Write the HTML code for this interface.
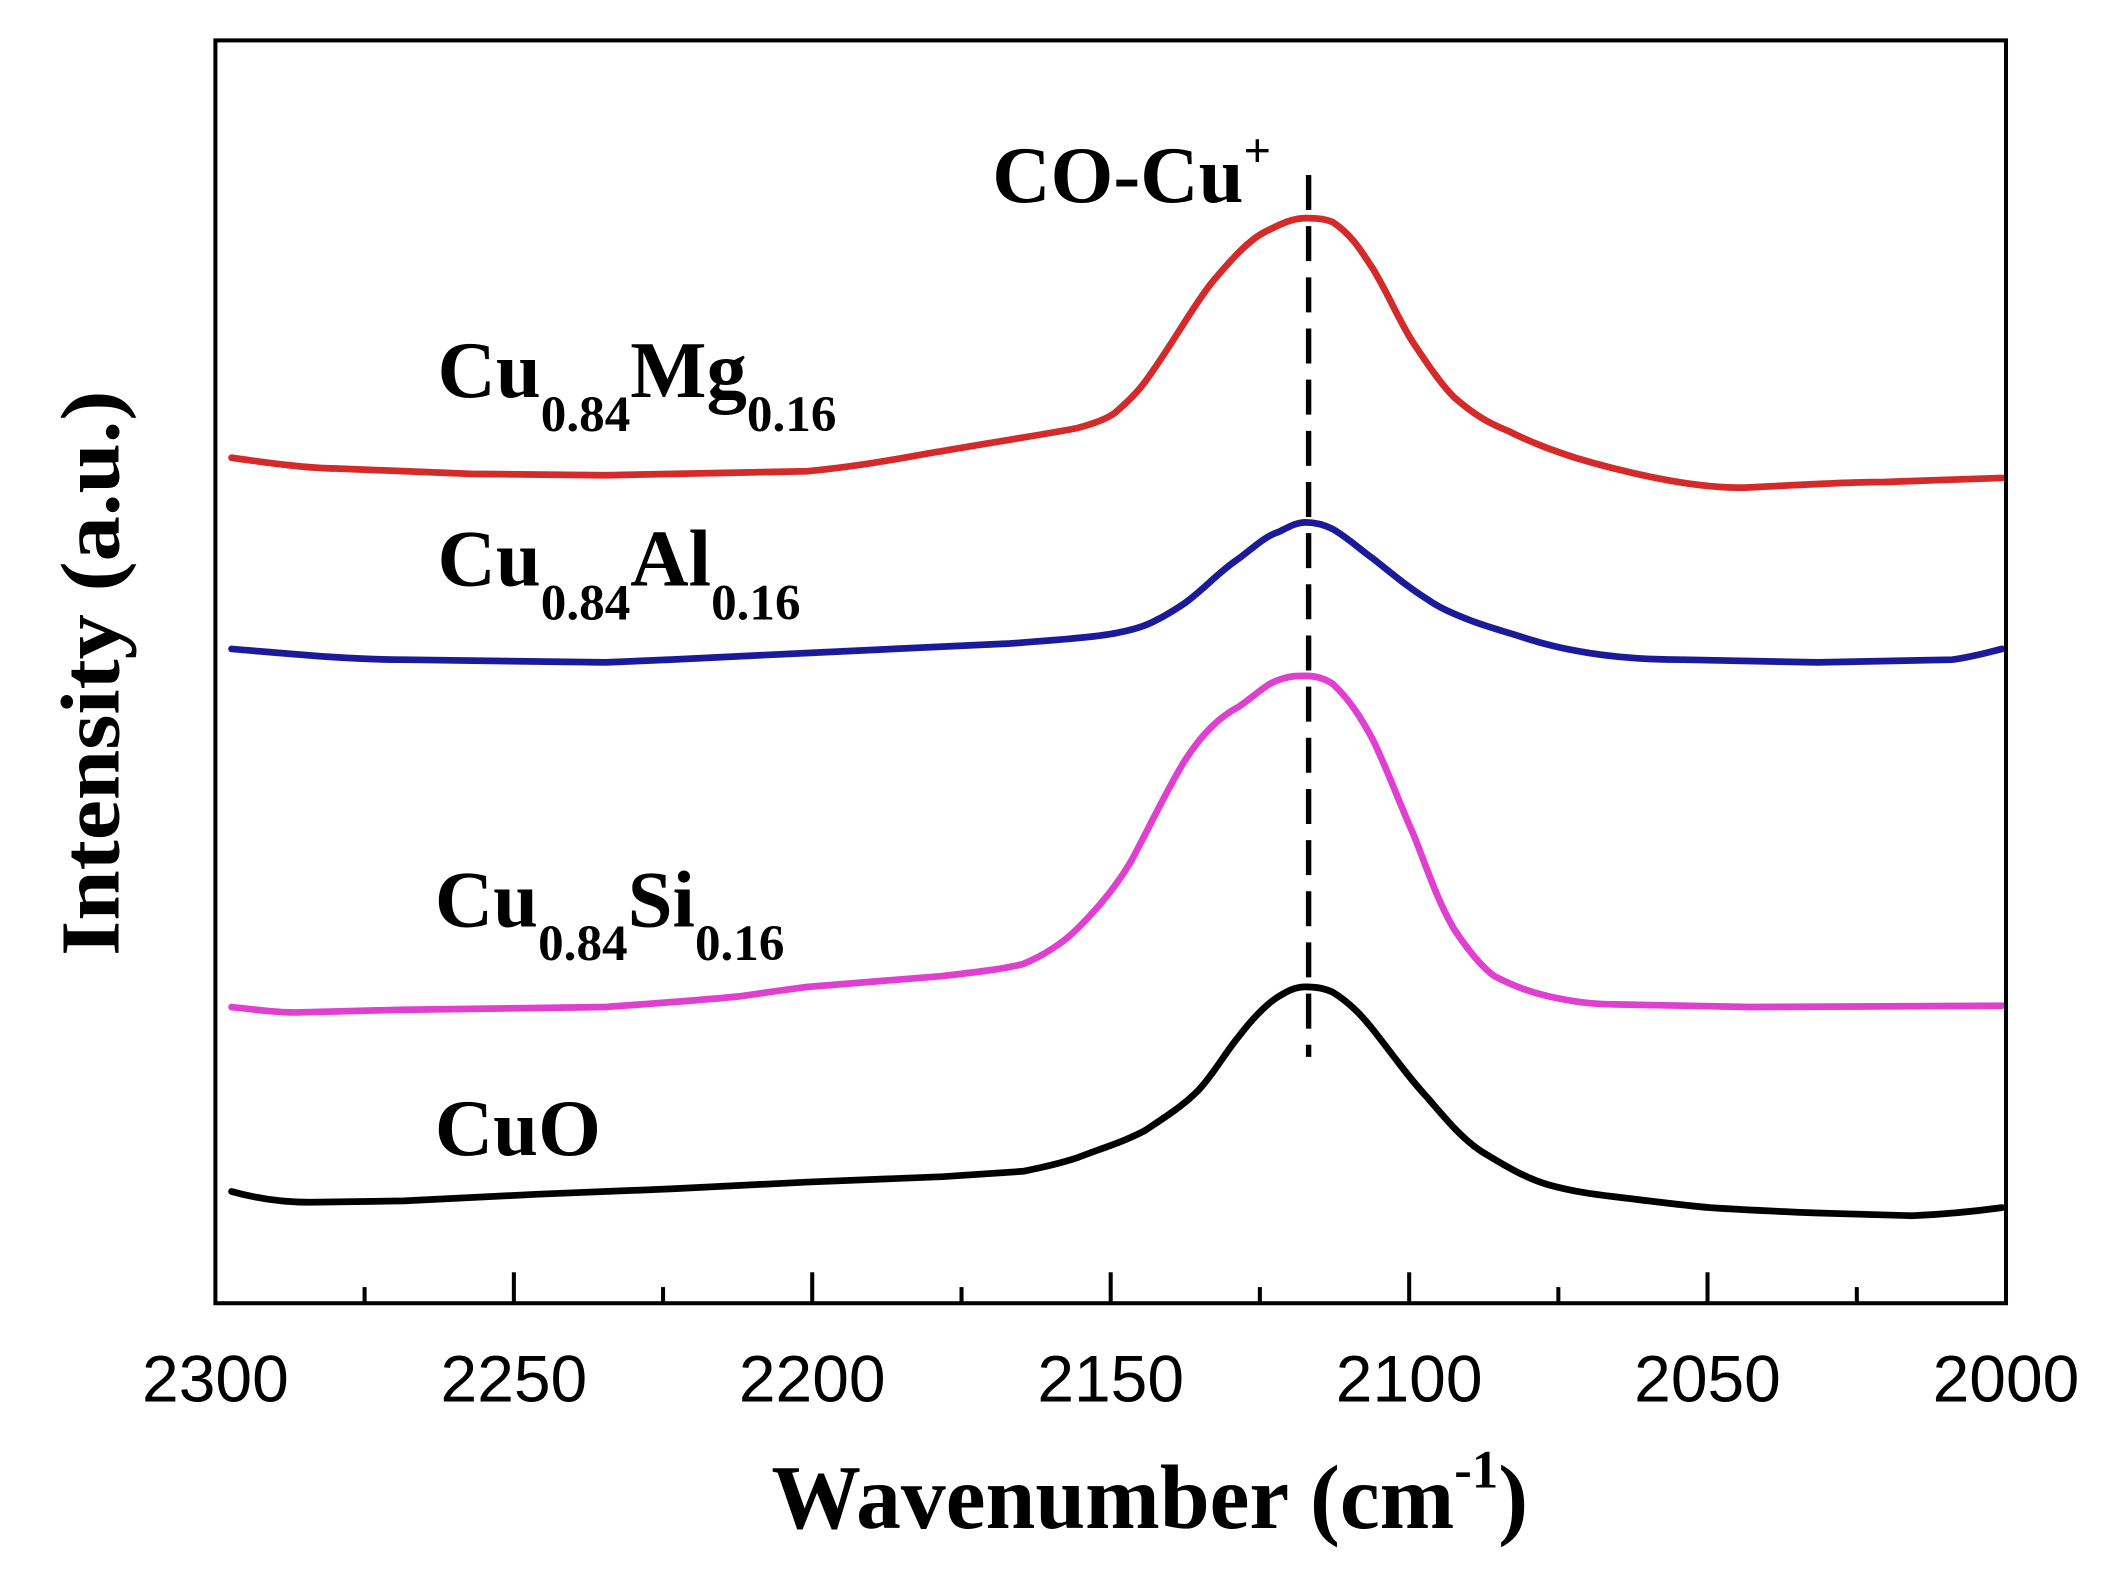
<!DOCTYPE html>
<html><head><meta charset="utf-8"><style>html,body{margin:0;padding:0;background:#fff}svg{display:block}</style></head>
<body>
<svg width="2111" height="1590" viewBox="0 0 1568 1181" preserveAspectRatio="none" xmlns="http://www.w3.org/2000/svg">
<rect width="1568" height="1181" fill="#fff"/>
<g fill="none" stroke-linejoin="round" stroke-linecap="round" stroke-width="5">
<path stroke="#d42a2a" d="M172,340 C200,344 230,348 250,348 L350,352 L450,353 L600,350 C650,345 680,338 700,335 C740,328 780,322 800,318 C815,314 825,310 830,305 C845,292 850,285 860,270 C875,248 888,225 900,210 C915,192 928,178 940,172 C952,166 960,162 970,162 C980,162 985,163 990,165 C1005,175 1012,188 1020,200 C1032,220 1040,240 1050,255 C1060,270 1070,285 1080,295 C1095,308 1105,314 1120,320 C1140,330 1155,335 1170,340 C1190,346 1210,351 1230,355 C1255,360 1280,363 1300,362 C1340,360 1370,358 1400,358 L1487,355"/>
<path stroke="#1a1a9a" d="M172,482 C220,486 260,490 300,490 L450,492 C500,490 560,487 600,485 L750,478 C790,475 815,473 830,470 C845,467 853,464 860,460 C868,456 874,452 880,448 C895,437 905,425 920,415 C932,406 940,398 950,395 C958,391 963,388 970,388 C978,388 984,390 990,393 C1002,400 1010,408 1020,415 C1035,427 1047,437 1060,445 C1070,452 1080,456 1090,460 C1105,466 1118,469 1130,473 C1148,479 1162,482 1180,485 C1205,489 1228,490 1250,490 L1350,492 L1450,490 C1465,488 1475,485 1487,482"/>
<path stroke="#e040d0" d="M172,748 C190,750 205,752 220,752 L300,750 L450,748 C490,745 520,743 550,740 C570,737 585,735 600,733 L700,725 C725,722 745,720 760,716 C775,710 790,700 800,690 C815,675 828,660 840,640 C855,612 866,588 880,565 C893,545 905,533 920,525 C932,517 940,508 950,505 C958,502 963,502 970,502 C978,502 984,504 990,508 C1003,520 1012,535 1020,550 C1032,575 1040,598 1050,620 C1060,645 1068,670 1080,690 C1090,705 1100,718 1110,725 C1125,733 1137,737 1150,740 C1168,744 1182,746 1200,746 L1300,748 L1487,747"/>
<path stroke="#000" d="M172,885 C190,890 210,893 230,893 L300,892 L400,887 L500,883 L600,878 L700,874 C730,872 745,871 760,870 C775,867 788,864 800,860 C818,853 835,848 850,840 C865,830 878,822 890,810 C902,797 910,782 920,770 C930,757 940,746 950,740 C958,735 963,733 970,733 C978,733 984,734 990,737 C1003,745 1012,755 1020,765 C1035,784 1046,800 1060,815 C1073,830 1085,845 1100,855 C1118,866 1133,875 1150,880 C1168,885 1183,887 1200,889 C1225,892 1248,895 1270,897 C1300,899 1325,900 1350,901 L1420,903 C1445,902 1465,900 1487,897"/>
</g>
<line x1="972" y1="130" x2="972" y2="785" stroke="#000" stroke-width="4" stroke-dasharray="26,12"/>
<rect x="160" y="30" width="1330" height="938" fill="none" stroke="#000" stroke-width="3"/>
<g stroke="#000" stroke-width="3">
<line x1="381.7" y1="968" x2="381.7" y2="945"/><line x1="603.3" y1="968" x2="603.3" y2="945"/><line x1="825" y1="968" x2="825" y2="945"/><line x1="1046.7" y1="968" x2="1046.7" y2="945"/><line x1="1268.3" y1="968" x2="1268.3" y2="945"/>
<line x1="270.8" y1="968" x2="270.8" y2="956"/><line x1="492.5" y1="968" x2="492.5" y2="956"/><line x1="714.2" y1="968" x2="714.2" y2="956"/><line x1="935.8" y1="968" x2="935.8" y2="956"/><line x1="1157.5" y1="968" x2="1157.5" y2="956"/><line x1="1379.2" y1="968" x2="1379.2" y2="956"/>
</g>
<g font-family="Liberation Sans, Arial, sans-serif" font-size="49" text-anchor="middle" fill="#000">
<text x="160" y="1041">2300</text><text x="381.7" y="1041">2250</text><text x="603.3" y="1041">2200</text><text x="825" y="1041">2150</text><text x="1046.7" y="1041">2100</text><text x="1268.3" y="1041">2050</text><text x="1490" y="1041">2000</text>
</g>
<g font-family="Liberation Serif, Times New Roman, serif" font-weight="bold" fill="#000">
<text x="573" y="1135" font-size="68" textLength="562" lengthAdjust="spacingAndGlyphs">Wavenumber (cm<tspan font-size="40" dy="-30">-1</tspan><tspan dy="30">)</tspan></text>
<text transform="translate(88,710) rotate(-90)" font-size="62" textLength="420" lengthAdjust="spacingAndGlyphs">Intensity (a.u.)</text>
<text x="737" y="150" font-size="60">CO-Cu<tspan font-size="36" dy="-26">+</tspan></text>
<text x="325" y="295" font-size="60">Cu<tspan font-size="38" dy="25">0.84</tspan><tspan dy="-25">Mg</tspan><tspan font-size="38" dy="25">0.16</tspan></text>
<text x="325" y="435" font-size="60">Cu<tspan font-size="38" dy="25">0.84</tspan><tspan dy="-25">Al</tspan><tspan font-size="38" dy="25">0.16</tspan></text>
<text x="323" y="688" font-size="60">Cu<tspan font-size="38" dy="25">0.84</tspan><tspan dy="-25">Si</tspan><tspan font-size="38" dy="25">0.16</tspan></text>
<text x="323" y="858" font-size="60">CuO</text>
</g>
</svg>
</body></html>
